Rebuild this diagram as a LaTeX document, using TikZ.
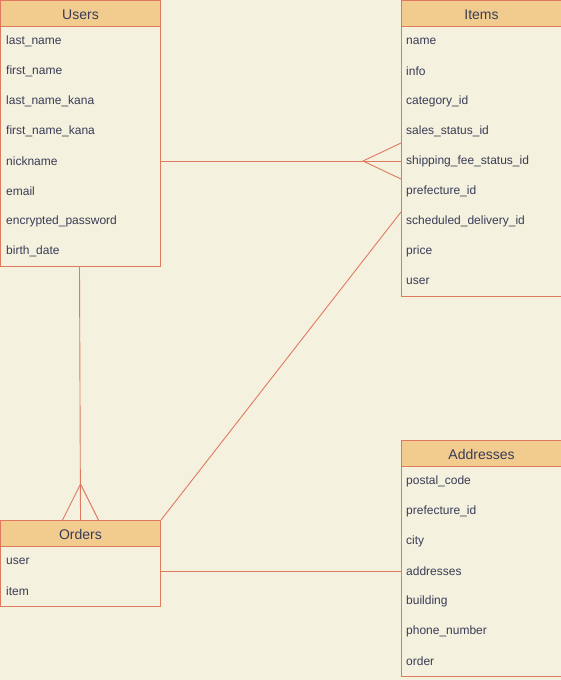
\documentclass[tikz,border=0pt]{standalone}
\usepackage{fontspec}
\setmainfont{Liberation Sans}
\definecolor{paper}{HTML}{F4F1DE}
\definecolor{headfill}{HTML}{F2CC8F}
\definecolor{edge}{HTML}{E07A5F}
\definecolor{ink}{HTML}{393C56}
\begin{document}
\begin{tikzpicture}[x=1pt,y=-1pt,
  entity/.style={draw=edge, fill=paper, line width=1pt, anchor=north west, inner sep=0pt},
  header/.style={draw=edge, fill=headfill, line width=1pt, anchor=north west, inner sep=0pt,
    text=ink, font=\fontsize{14}{16}\selectfont, text height=12pt, text depth=0pt,
    minimum width=160pt, minimum height=26pt},
  field/.style={anchor=west, inner sep=0pt, text=ink, font=\fontsize{12}{14}\selectfont},
  rel/.style={draw=edge, line width=0.9pt}]
\fill[paper] (0,0) rectangle (561,680);
\useasboundingbox (0,0) rectangle (561,680);

% Users
\node[entity, minimum width=160pt, minimum height=266pt] (users) at (0,0) {};
\node[header] (usersH) at (0,0) {Users};
\foreach \t [count=\i] in {last\_name, first\_name, last\_name\_kana, first\_name\_kana,
    nickname, email, encrypted\_password, birth\_date}
  \node[field] (u\i) at (6,11+30*\i) {\t};

% Items
\node[entity, minimum width=160pt, minimum height=296pt] (items) at (401,0) {};
\node[header] (itemsH) at (401,0) {Items};
\foreach \t [count=\i] in {name, info, category\_id, sales\_status\_id, shipping\_fee\_status\_id,
    prefecture\_id, scheduled\_delivery\_id, price, user}
  \node[field] (i\i) at (406,11+30*\i) {\t};

% Orders
\node[entity, minimum width=160pt, minimum height=86pt] (orders) at (0,520) {};
\node[header] (ordersH) at (0,520) {Orders};
\foreach \t [count=\i] in {user, item}
  \node[field] (o\i) at (6,531+30*\i) {\t};

% Addresses
\node[entity, minimum width=160pt, minimum height=236pt] (addr) at (401,440) {};
\node[header] (addrH) at (401,440) {Addresses};
\foreach \t [count=\i] in {postal\_code, prefecture\_id, city, addresses, building,
    phone\_number, order}
  \node[field] (a\i) at (406,451+30*\i) {\t};

% Users -- Items (many on the Items side)
\coordinate (uiL) at (users.east |- u5);
\coordinate (uiR) at (items.west |- u5);
\coordinate (uiFoot) at ([xshift=-38pt]uiR);
\draw[rel] (uiL) -- (uiR);
\draw[rel] ([yshift=-18pt]uiR) -- (uiFoot) -- ([yshift=18pt]uiR);

% Users -- Orders (many on the Orders side)
\coordinate (uoT) at ([xshift=-1pt]users.south);
\coordinate (uoB) at (orders.north);
\coordinate (uoFoot) at ([yshift=36pt]uoB);
\draw[rel] (uoT) -- (uoB);
\draw[rel] ([xshift=-18pt]uoB) -- (uoFoot) -- ([xshift=18pt]uoB);

% Items -- Orders
\draw[rel] (items.west |- i7) ++(0,-9) coordinate (ioT) (ioT) -- (orders.north east);

% Orders -- Addresses
\draw[rel] (orders.east |- a4) -- (addr.west |- a4);
\end{tikzpicture}
\end{document}
